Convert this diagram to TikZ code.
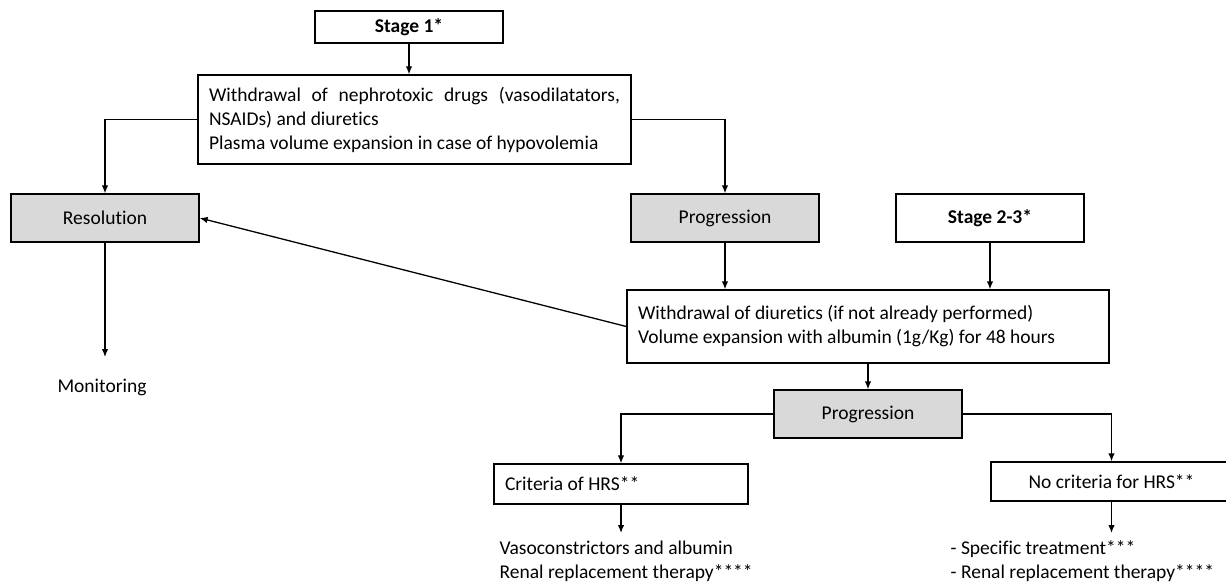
\documentclass[tikz,border=0pt]{standalone}
\usepackage{fontspec}
\setmainfont{Carlito}[Ligatures=NoCommon]
\usetikzlibrary{arrows.meta}

\begin{document}
\begin{tikzpicture}[x=1pt, y=-1pt, line width=1.3pt,
  >={Latex[length=8pt,width=6.5pt]},
  font=\fontsize{19.5}{24}\selectfont,
  box/.style={draw, minimum height=48pt, minimum width=188pt, inner sep=0pt},
  grey/.style={box, fill=black!15},
  wide/.style={draw, align=left, inner xsep=11pt, inner ysep=0pt},
  plain/.style={align=left, inner xsep=0pt, inner ysep=7pt}]
\useasboundingbox (0,0) rectangle (1226,583);
\node (stage1) [box, minimum height=32pt] at (409,27) {\textbf{Stage 1*}};
\node (step1) [wide, minimum width=433pt, minimum height=89pt, text width=411pt] at (414.5,119.5)
  {\hbox to 411pt{Withdrawal\hfill of\hfill nephrotoxic\hfill drugs\hfill (vasodilatators,}\\
   \spaceskip=\fontdimen2\font NSAIDs) and diuretics\\
   \spaceskip=\fontdimen2\font Plasma volume expansion in case of hypovolemia};
\node (resol) [grey] at (105,218) {Resolution};
\node (prog1) [grey] at (725,218) {Progression};
\node (stage23) [box] at (990,218) {\textbf{Stage 2-3*}};
\node (step2) [wide, minimum width=482pt, minimum height=73pt, text width=460pt] at (868,326.5)
  {\spaceskip=\fontdimen2\font Withdrawal of diuretics (if not already performed)\\
   \spaceskip=\fontdimen2\font Volume expansion with albumin (1g/Kg) for 48 hours};
\coordinate (monend) at (105,357);
\node (monitor) at (102,387) {Monitoring};
\node (prog2) [grey] at (868,414) {Progression};
\node (hrs) [wide, minimum width=254pt, minimum height=40pt, text width=232pt] at (621,484)
  {\spaceskip=\fontdimen2\font Criteria of HRS**};
\node (nohrs) [box, minimum width=241pt, minimum height=39pt] at (1111.5,481.5) {No criteria for HRS**};
\node (ther1) [plain, anchor=north west] at (499,533)
  {\spaceskip=\fontdimen2\font Vasoconstrictors and albumin\\
   \spaceskip=\fontdimen2\font Renal replacement therapy****};
\node (ther2) [plain, anchor=north west] at (950,533)
  {\spaceskip=\fontdimen2\font - Specific treatment***\\
   \spaceskip=\fontdimen2\font - Renal replacement therapy****};
\draw[->] (stage1.south) -- (stage1.south |- step1.north);
\draw[->] (step1.west) -| (resol.north);
\draw[->] (step1.east) -| (prog1.north);
\draw[->] (prog1.south) -- (prog1.south |- step2.north);
\draw[->] (stage23.south) -- (stage23.south |- step2.north);
\draw[->] (step2.west) -- (resol.east);
\draw[->] (resol.south) -- (monend);
\draw[->] (step2.south) -- (prog2.north);
\draw[->] (prog2.west) -| (hrs.north);
\draw[->] (prog2.east) -| (nohrs.north);
\draw[->] (hrs.south) -- (hrs.south |- ther1.north);
\draw[->] (nohrs.south) -- (nohrs.south |- ther2.north);
\end{tikzpicture}
\end{document}
